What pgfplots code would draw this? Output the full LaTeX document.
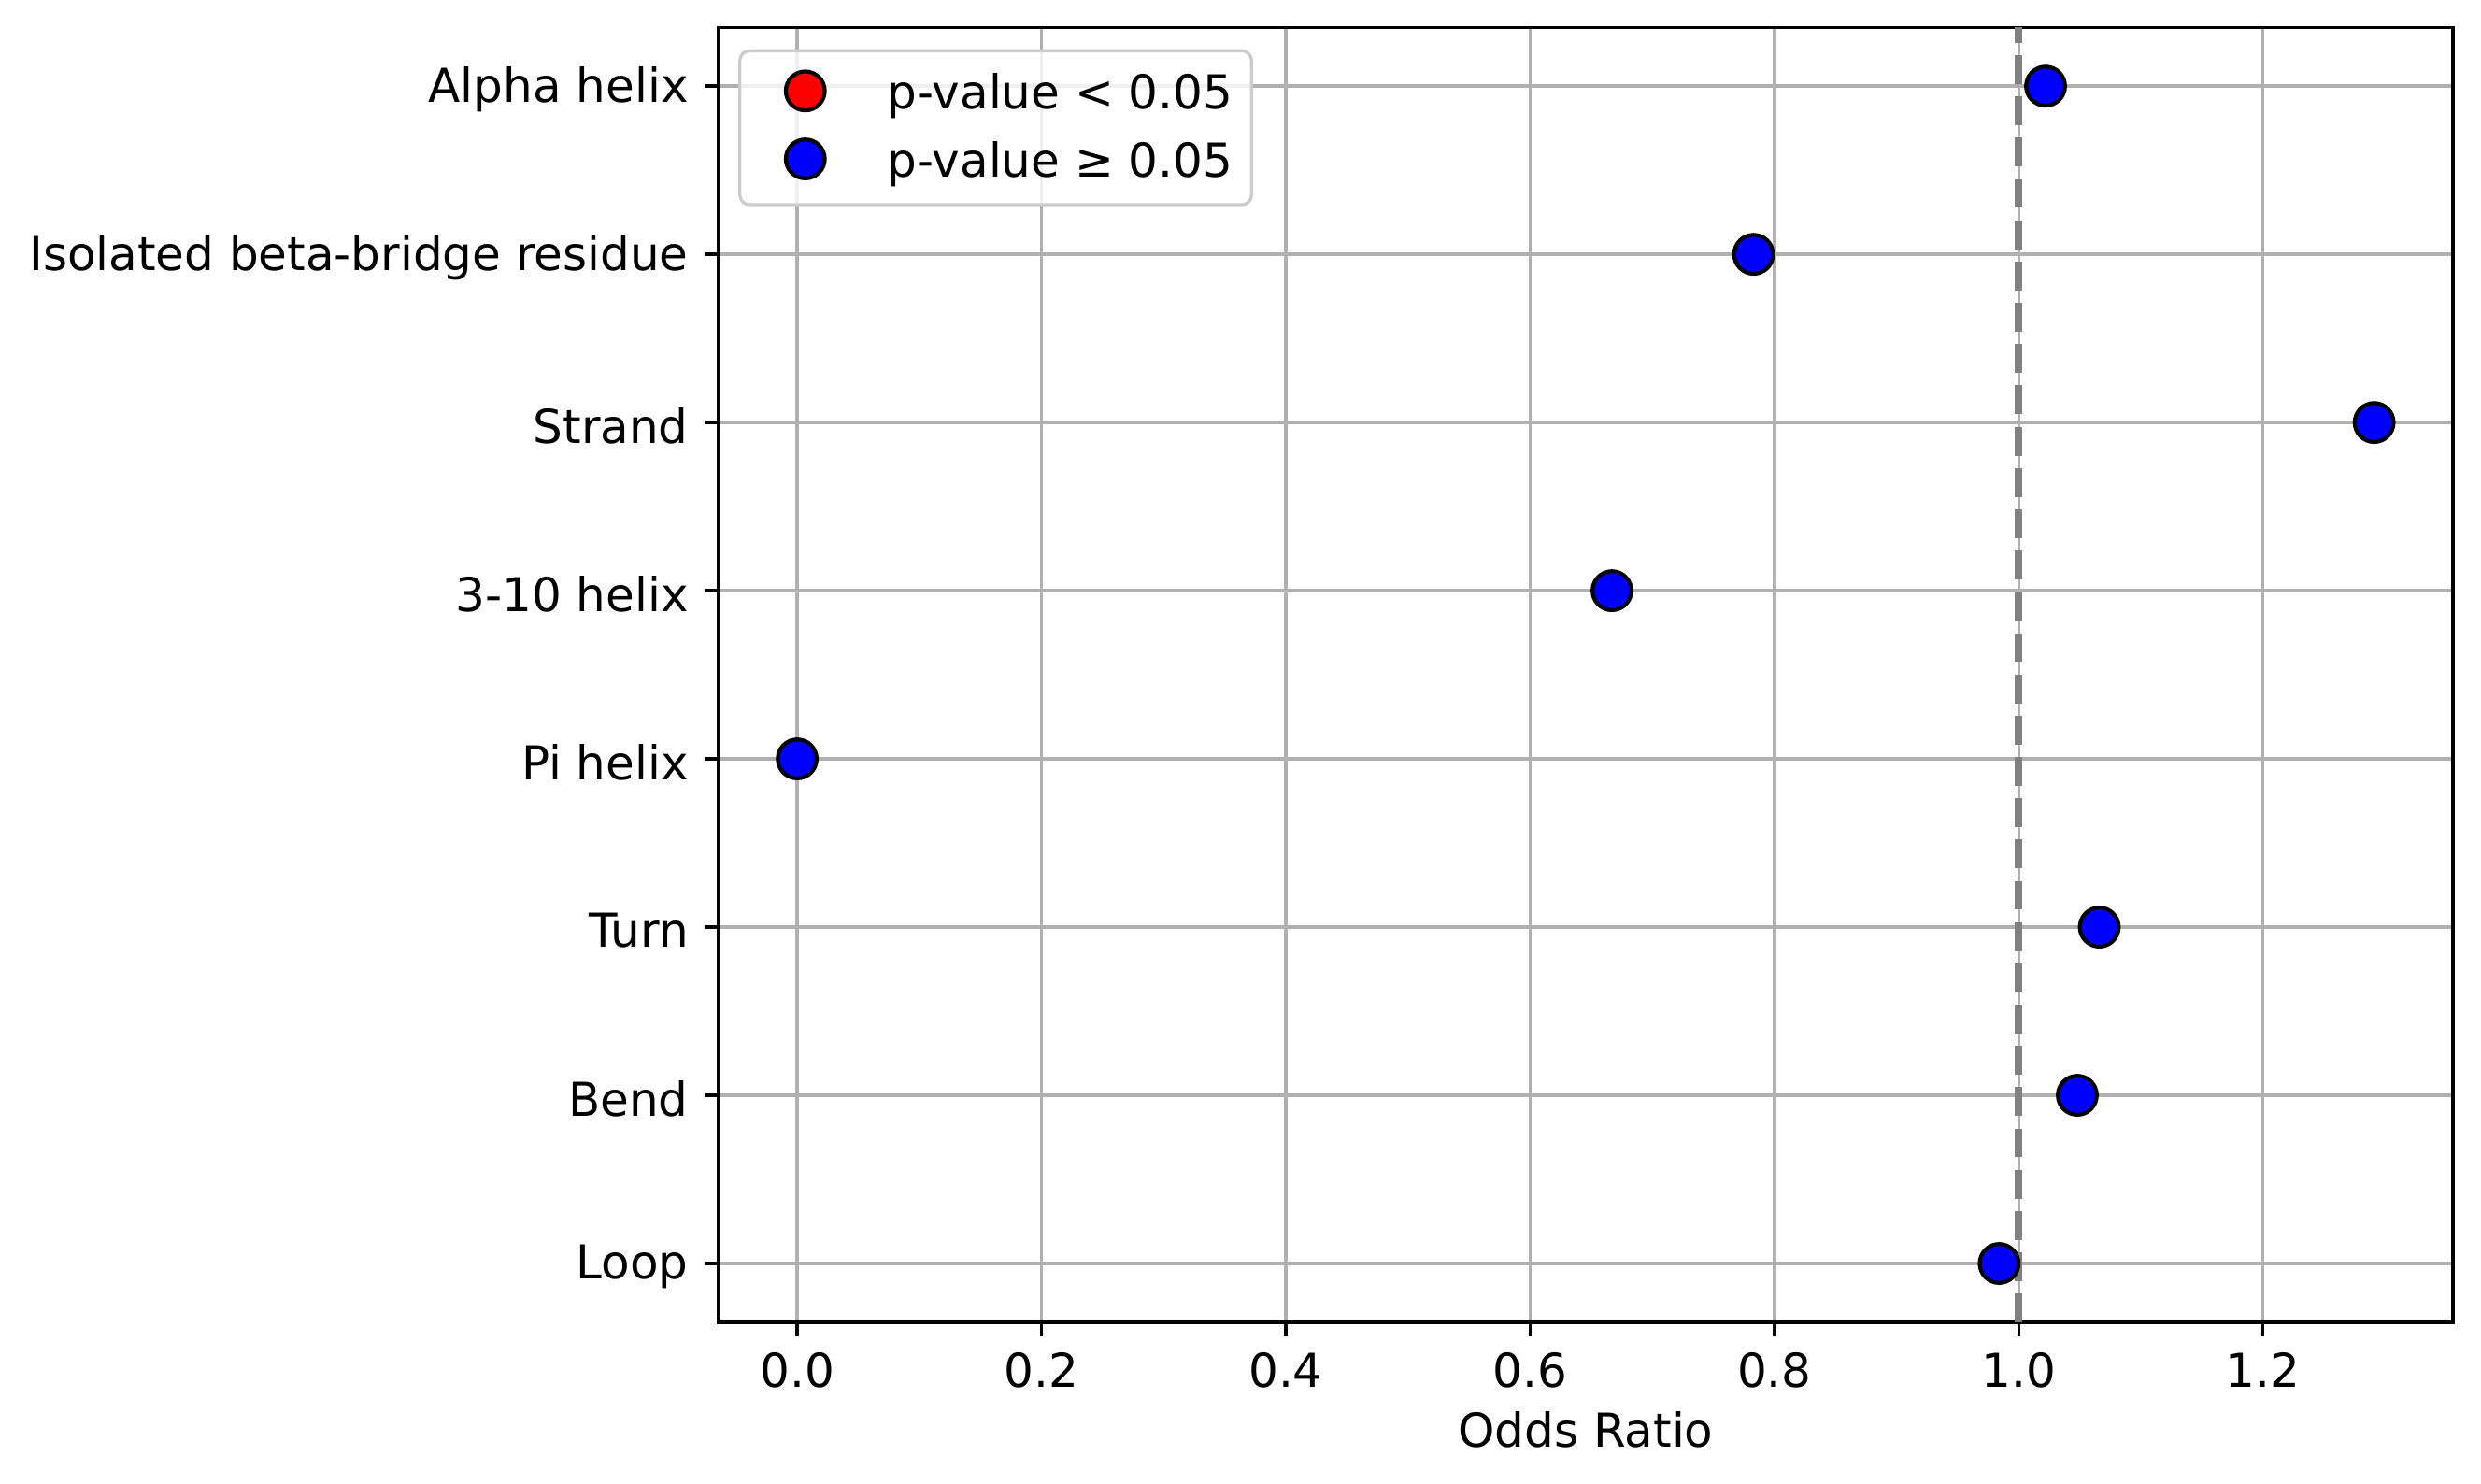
\documentclass[border=0pt]{standalone}
\usepackage{fontspec}
\setmainfont{DejaVu Sans}
\usepackage{pgfplots}
\pgfplotsset{compat=1.18}
\definecolor{gridgray}{HTML}{B0B0B0}
\definecolor{leggray}{HTML}{CCCCCC}
\definecolor{dashgray}{HTML}{808080}
\begin{document}
\fontsize{12}{14.4}\selectfont
\begin{tikzpicture}
\begin{axis}[
  set layers,
  scale only axis, width=445.5pt, height=332.6pt,
  at={(0,0)}, anchor=south west,
  xmin=-0.06455, xmax=1.35555, ymin=-0.35, ymax=7.35,
  xtick={0,0.2,0.4,0.6,0.8,1.0,1.2},
  xticklabel style={/pgf/number format/.cd, fixed, fixed zerofill, precision=1},
  /pgf/number format/assume math mode=true,
  ytick={0,1,2,3,4,5,6,7},
  yticklabels={Loop,Bend,Turn,Pi helix,3-10 helix,Strand,Isolated beta-bridge residue,Alpha helix},
  yticklabel style={yshift=-0.8pt},
  grid=major, major grid style={gridgray, line width=0.8pt},
  tick align=outside, major tick length=3.5pt, tick pos=left,
  tick style={black, line width=0.8pt},
  axis line style={line width=0.8pt},
  tick label style={font=\fontsize{12}{14.4}\selectfont},
  label style={font=\fontsize{12}{14.4}\selectfont},
  xlabel={Odds Ratio},
  xlabel style={yshift=2pt},
  legend cell align=left,
  legend image code/.code={%
    \path[draw=none, fill=none] (0pt,0pt) -- (24pt,0pt);
    \draw[#1, fill opacity=1, draw opacity=1] plot coordinates {(12pt,1pt)};},
  legend style={at={(0.0115,0.983)}, anchor=north west, draw=leggray, line width=0.8pt,
    rounded corners=2.5pt, fill=white, fill opacity=0.8, text opacity=1,
    font=\fontsize{12}{14.4}\selectfont, inner xsep=4.8pt, inner ysep=5.3pt,
    row sep=6pt, column sep=9pt, nodes={inner xsep=0pt, inner ysep=0pt}},
]
\addlegendimage{only marks, mark=*, mark size=5pt, draw=black, fill=red, line width=1pt}
\addlegendentry{p-value < 0.05}
\addlegendimage{only marks, mark=*, mark size=5pt, draw=black, fill=blue, line width=1pt}
\addlegendentry{p-value ≥ 0.05}
\addplot[only marks, mark=*, mark size=5pt, draw=black, fill=blue, line width=1pt, on layer=axis background, forget plot]
  coordinates {(1.022,7) (0.783,6) (1.291,5) (0.667,4) (0.0,3) (1.066,2) (1.048,1) (0.984,0)};
\addplot[dashgray, line width=2pt, dash pattern=on 7.4pt off 3.2pt, forget plot]
  coordinates {(1,-0.35) (1,7.35)};
\end{axis}
\pgfresetboundingbox
\path[use as bounding box] (-184.5pt,-41.3pt) rectangle (452.7pt,339.6pt);
\end{tikzpicture}
\end{document}
